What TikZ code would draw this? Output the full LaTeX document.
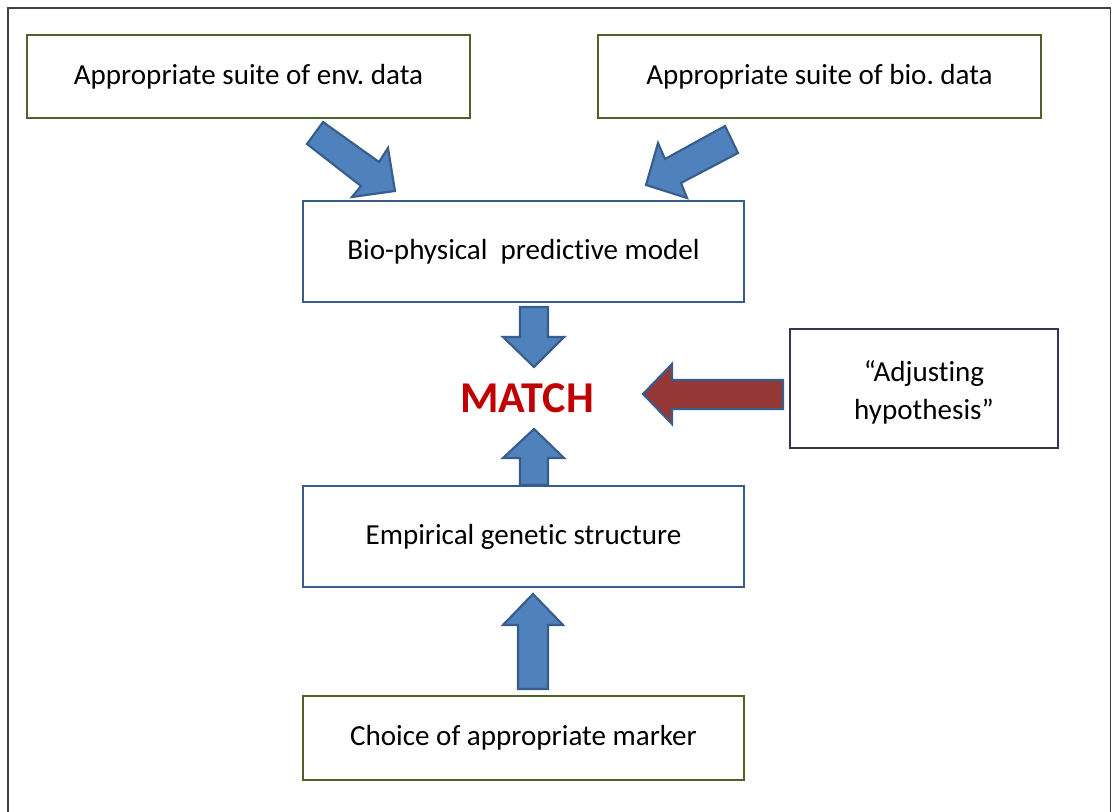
\documentclass[tikz,border=0pt]{standalone}
\usepackage{fontspec}
\setmainfont[Ligatures={NoCommon}]{Carlito}
\frenchspacing
\definecolor{boxgreen}{HTML}{4F6228}
\definecolor{boxblue}{HTML}{385D8A}
\definecolor{arrowfill}{HTML}{4F81BD}
\definecolor{redfill}{HTML}{953735}
\definecolor{boxpurple}{HTML}{3F3151}
\definecolor{matchred}{HTML}{C00000}
\definecolor{framegray}{HTML}{404040}
\tikzset{
  txt/.style={font=\fontsize{21.8}{28.5}\selectfont, text=black, align=center},
  greenbox/.style={txt, draw=boxgreen, line width=1.9pt, fill=white},
  bluebox/.style={txt, draw=boxblue, line width=2.1pt, fill=white},
  purplebox/.style={txt, draw=boxpurple, line width=1.9pt, fill=white},
  blockarrow/.style={fill=arrowfill, draw=boxblue, line width=1.6pt, line join=miter},
  redarrow/.style={fill=redfill, draw=boxblue, line width=1.6pt, line join=miter},
}
\begin{document}
\begin{tikzpicture}[x=0.75pt,y=-0.75pt]
\useasboundingbox (0,0) rectangle (1113,812);
\draw[framegray, line width=1.2pt] (8,830) -- (8,8) -- (1110.5,8) -- (1110.5,830);

% boxes
\node[greenbox, minimum width=332.25pt, minimum height=62.25pt] (env) at (248.5,76.5) {Appropriate suite of env. data};
\node[greenbox, minimum width=332.25pt, minimum height=62.25pt] (bio) at (819.5,76.5) {Appropriate suite of bio. data};
\node[bluebox, minimum width=330.75pt, minimum height=75.75pt] (model) at (523.5,251.5) {Bio-physical\ \ predictive model};
\node[bluebox, minimum width=330.75pt, minimum height=75.75pt] (emp) at (523.5,536.5) {Empirical genetic structure};
\node[greenbox, minimum width=330.75pt, minimum height=63pt] (choice) at (523.5,738) {Choice of appropriate marker};
\node[purplebox, minimum width=201pt, minimum height=89.25pt] (adj) at (924,388.5) {\raisebox{-2.6pt}[\height][\depth]{\shortstack{“Adjusting\\[6.25pt]hypothesis”}}};
\node[font=\fontsize{33}{36}\selectfont\bfseries, text=matchred] (match) at (527,398) {MATCH};

% block arrows
\draw[blockarrow] (323,122) -- (379,162) -- (388,148) -- (395,191) -- (352,197) -- (361,186) -- (307,144) -- cycle;
\draw[blockarrow] (725,126) -- (665,159) -- (658,143) -- (646,185) -- (687,198) -- (681,183) -- (738,153) -- cycle;
\draw[blockarrow] (520,307) -- (548,307) -- (548,337) -- (564,337) -- (534,367) -- (503,337) -- (520,337) -- cycle;
\draw[blockarrow] (520,485) -- (548,485) -- (548,458) -- (564,458) -- (534,429) -- (503,458) -- (520,458) -- cycle;
\draw[blockarrow] (518,689) -- (548,689) -- (548,625) -- (563,625) -- (533,594) -- (503,625) -- (518,625) -- cycle;
\draw[redarrow] (783,380) -- (672,380) -- (672,364) -- (643,394) -- (672,424) -- (672,409) -- (783,409) -- cycle;
\end{tikzpicture}
\end{document}
